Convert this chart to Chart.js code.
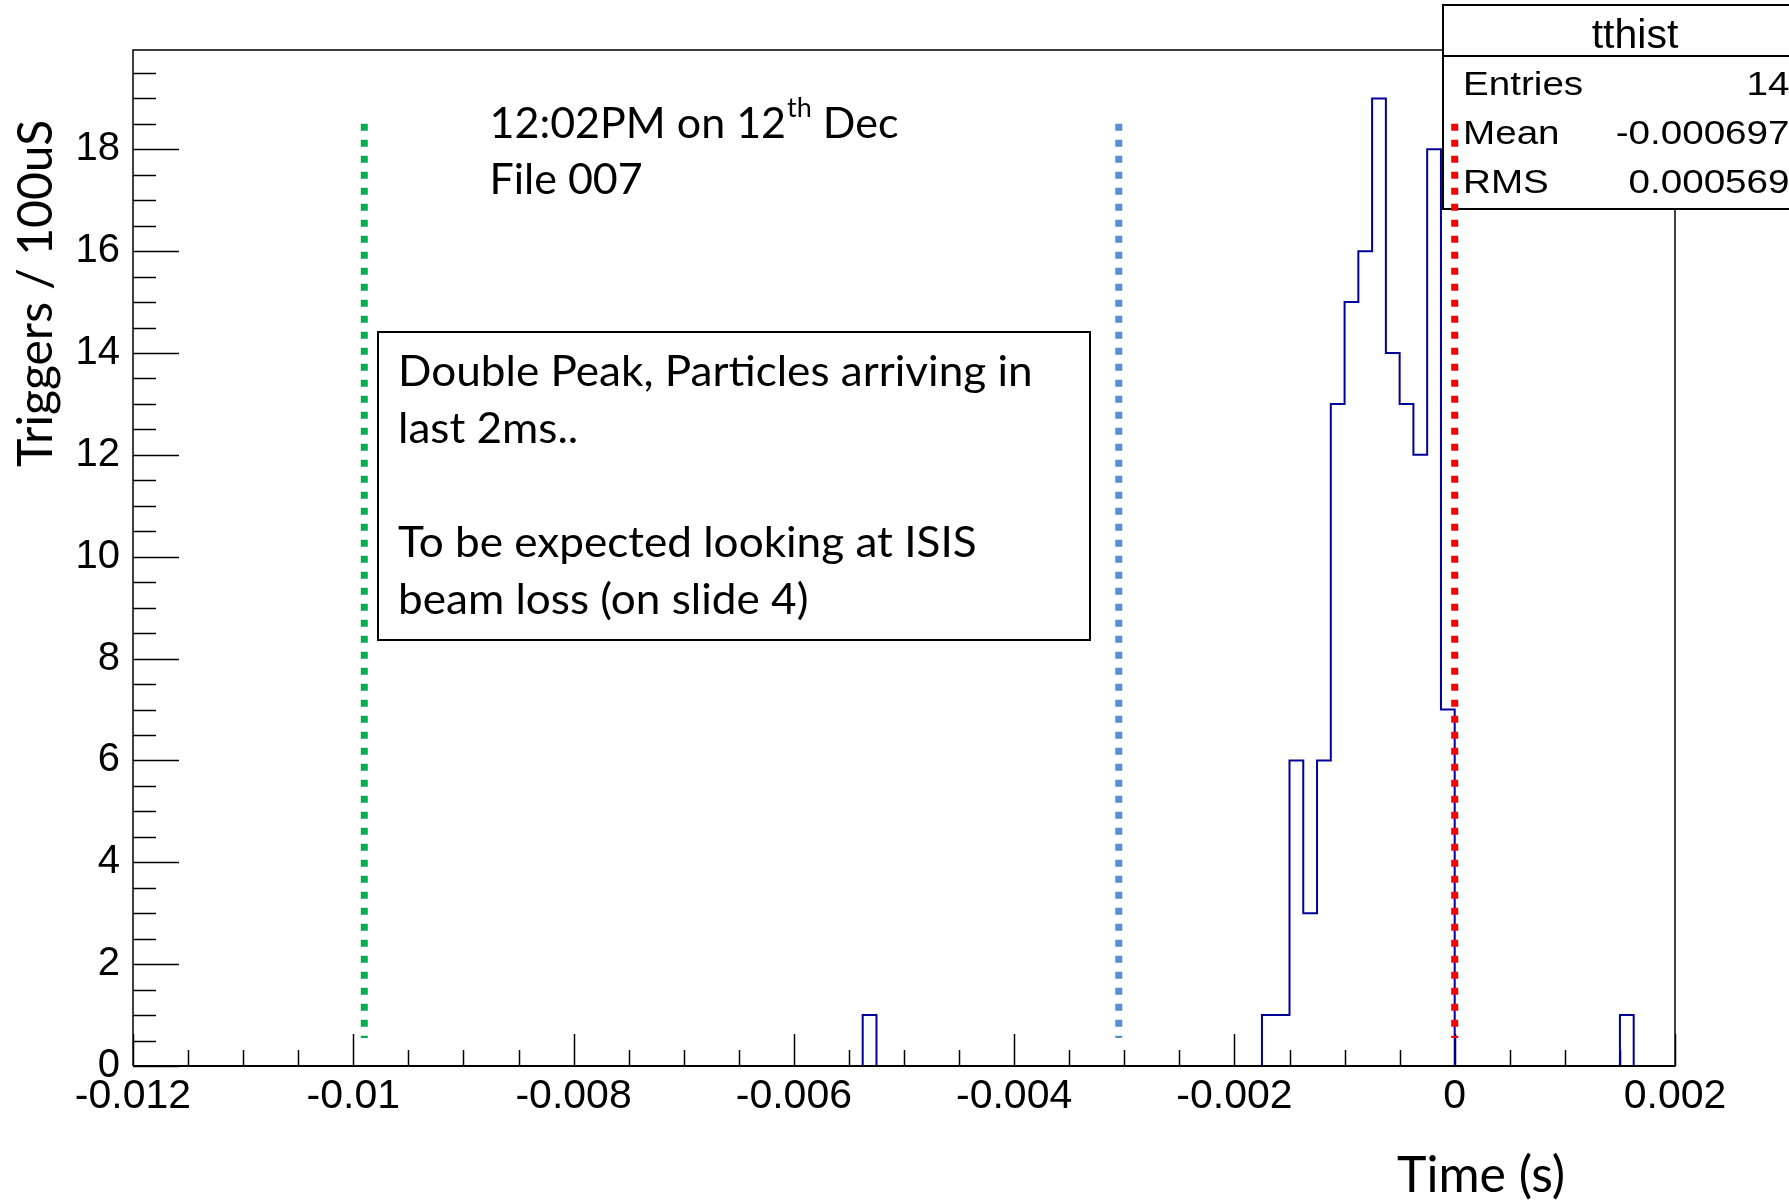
<!DOCTYPE html>
<html>
<head>
<meta charset="utf-8">
<title>tthist</title>
<script src="https://cdn.jsdelivr.net/npm/chart.js@4.4.0/dist/chart.umd.min.js"></script>
<style>
  html, body { margin: 0; padding: 0; background: #fff; }
  #wrap { width: 1789px; height: 1204px; }
</style>
</head>
<body>
<div id="wrap"><canvas id="tthistChart" width="1789" height="1204"></canvas></div>
<script>
// tthist - only the filled bins are listed (left edge in s, count)
const binWidth = 0.000125;
const binLeft = [-0.005375, -0.00175, -0.001625, -0.0015, -0.001375, -0.00125, -0.001125, -0.001,
                 -0.000875, -0.00075, -0.000625, -0.0005, -0.000375, -0.00025, -0.000125, 0.0015];
const binCounts = [1, 1, 1, 6, 3, 6, 13, 15, 16, 19, 14, 13, 12, 18, 7, 1];

const xRange = [-0.012, 0.002];
const yRange = [0, 19.95];
const xTicks = [-0.012, -0.01, -0.008, -0.006, -0.004, -0.002, 0, 0.002];
const xTickLabels = ['-0.012', '-0.01', '-0.008', '-0.006', '-0.004', '-0.002', '0', '0.002'];
const yTicks = [0, 2, 4, 6, 8, 10, 12, 14, 16, 18];
const yTickLabels = ['0', '2', '4', '6', '8', '10', '12', '14', '16', '18'];

// dotted markers put on the slide (time in s, from/to in counts)
const markerTimes = [-0.0099, -0.00305, 0];
const markerSpan = [18.5, 0.55];

const statNames = ['Entries', 'Mean', 'RMS'];
const statValues = ['146', '-0.0006973', '0.0005694'];

const noteLines = ['Double Peak, Particles arriving in', 'last 2ms..', '', 'To be expected looking at ISIS', 'beam loss (on slide 4)'];

// fill the empty bins so the outline runs along the axis
const nBins = Math.round((xRange[1] - xRange[0]) / binWidth);
const counts = new Array(nBins).fill(0);
binLeft.forEach((x, i) => {
    counts[Math.round((x - xRange[0]) / binWidth)] = binCounts[i];
});
const histPoints = counts.map((c, i) => ({ x: xRange[0] + i * binWidth, y: c }));
histPoints.push({ x: xRange[1], y: 0 });

const markerColors = ['#00B050', '#558ED5', '#FF0000'];
const markerSets = markerTimes.map((t, i) => ({
    data: [{ x: t, y: markerSpan[0] }, { x: t, y: markerSpan[1] }],
    borderColor: markerColors[i],
    borderWidth: 7,
    borderDash: [7, 9],
    borderCapStyle: 'butt',
    pointRadius: 0,
    order: 0
}));

const ROOT_FONT = '"Liberation Sans", Arial, sans-serif';
const SLIDE_FONT = 'Lato, "Open Sans", sans-serif';

// text squeezed/stretched sideways (the slide picture is not 1:1)
function wideText(ctx, str, x, y, sx, align) {
    ctx.save();
    ctx.translate(x, y);
    ctx.scale(sx, 1);
    ctx.textAlign = align || 'left';
    ctx.fillText(str, 0, 0);
    ctx.restore();
    return ctx.measureText(str).width * sx;
}

function drawTicks(ctx, chart) {
    const x = chart.scales.x, y = chart.scales.y;
    const a = chart.chartArea;
    ctx.save();
    ctx.strokeStyle = '#000';
    ctx.lineWidth = 1.5;
    ctx.beginPath();
    // frame
    ctx.moveTo(a.left, a.bottom); ctx.lineTo(a.left, a.top); ctx.lineTo(a.right, a.top);
    ctx.lineTo(a.right, a.bottom); ctx.lineTo(a.left, a.bottom);
    // x ticks, every 0.0005, long ones at labels
    for (let k = 0; k <= 28; k++) {
        const v = xRange[0] + k * 0.0005;
        const px = Math.round(x.getPixelForValue(v)) + 0.5;
        const len = (k % 4 === 0) ? 32 : 16;
        ctx.moveTo(px, a.bottom); ctx.lineTo(px, a.bottom - len);
    }
    // y ticks, every 0.5
    for (let k = 0; k <= 39; k++) {
        const py = Math.round(y.getPixelForValue(k * 0.5)) + 0.5;
        const len = (k % 4 === 0) ? 46 : 23;
        ctx.moveTo(a.left, py); ctx.lineTo(a.left + len, py);
    }
    ctx.stroke();
    ctx.restore();
}

function drawStats(ctx) {
    const left = 1443, top = 5, bottom = 209, right = 1830;
    ctx.save();
    ctx.fillStyle = '#fff';
    ctx.fillRect(left, top, right - left, bottom - top);
    ctx.strokeStyle = '#000';
    ctx.lineWidth = 2;
    ctx.strokeRect(left, top, right - left, bottom - top);
    ctx.beginPath();
    ctx.moveTo(left, 56); ctx.lineTo(right, 56);
    ctx.stroke();
    ctx.fillStyle = '#000';
    ctx.font = '41px ' + ROOT_FONT;
    ctx.textAlign = 'center';
    ctx.textBaseline = 'alphabetic';
    ctx.fillText('tthist', 1635, 48);
    ctx.font = '33px ' + ROOT_FONT;
    const rows = [95, 144, 193];
    statNames.forEach((name, i) => {
        wideText(ctx, name, 1463, rows[i], 1.17, 'left');
        wideText(ctx, statValues[i], 1811, rows[i], 1.17, 'right');
    });
    ctx.restore();
}

const rootLook = {
    id: 'rootLook',
    beforeDatasetsDraw(chart) {
        drawTicks(chart.ctx, chart);
        drawStats(chart.ctx);
    },
    afterDatasetsDraw(chart) {
        // axis line again so the empty bins don't show blue on it
        const ctx = chart.ctx, a = chart.chartArea;
        ctx.save();
        ctx.strokeStyle = '#000';
        ctx.lineWidth = 2;
        ctx.beginPath();
        ctx.moveTo(a.left, a.bottom); ctx.lineTo(a.right, a.bottom);
        ctx.stroke();
        ctx.restore();
    },
    afterDraw(chart) {
        const ctx = chart.ctx;
        ctx.save();
        ctx.fillStyle = '#000';
        ctx.textAlign = 'left';
        ctx.textBaseline = 'alphabetic';

        // date / file label
        ctx.font = '43px ' + SLIDE_FONT;
        let tx = 489.5;
        tx += wideText(ctx, '12:02PM on 12', tx, 138, 1);
        ctx.font = '27px ' + SLIDE_FONT;
        tx += wideText(ctx, 'th', tx + 1, 117, 1) + 1;
        ctx.font = '43px ' + SLIDE_FONT;
        wideText(ctx, ' Dec', tx, 138, 1);
        wideText(ctx, 'File 007', 489.5, 194, 1);

        // comment box
        ctx.fillStyle = '#fff';
        ctx.fillRect(378, 332, 712, 308);
        ctx.strokeStyle = '#000';
        ctx.lineWidth = 2;
        ctx.strokeRect(378, 332, 712, 308);
        ctx.fillStyle = '#000';
        ctx.font = '42px ' + SLIDE_FONT;
        noteLines.forEach((line, i) => {
            if (line) wideText(ctx, line, 398, 386 + i * 57, 1.05);
        });

        // axis titles
        ctx.font = '50px ' + SLIDE_FONT;
        wideText(ctx, 'Time (s)', 1397, 1192, 1);
        ctx.font = '48px ' + SLIDE_FONT;
        ctx.translate(52, 467);
        ctx.rotate(-Math.PI / 2);
        ctx.fillText('Triggers / 100uS', 0, 0);
        ctx.restore();
    }
};

function buildChart() {
    const ctx = document.getElementById('tthistChart').getContext('2d');
    new Chart(ctx, {
        type: 'line',
        data: {
            datasets: markerSets.concat([{
                label: 'tthist',
                data: histPoints,
                stepped: true,
                borderColor: '#000099',
                borderWidth: 2,
                pointRadius: 0,
                fill: false,
                order: 1,
                segment: {
                    borderColor: c => (c.p0.parsed.y === 0 && c.p1.parsed.y === 0) ? 'rgba(0,0,0,0)' : '#000099'
                }
            }])
        },
        options: {
            responsive: false,
            devicePixelRatio: 1,
            animation: false,
            events: [],
            layout: { padding: { top: 50, right: 114, left: 0, bottom: 0 } },
            plugins: {
                legend: { display: false },
                tooltip: { enabled: false },
                title: { display: false }
            },
            scales: {
                x: {
                    type: 'linear',
                    min: xRange[0],
                    max: xRange[1],
                    grid: { display: false, drawTicks: false },
                    border: { display: false },
                    afterFit: s => { s.height = 138; },
                    afterBuildTicks: s => { s.ticks = xTicks.map(v => ({ value: v })); },
                    ticks: {
                        autoSkip: false,
                        maxRotation: 0,
                        padding: 6,
                        color: '#000',
                        font: { family: ROOT_FONT, size: 41 },
                        callback: (v, i) => xTickLabels[i]
                    }
                },
                y: {
                    type: 'linear',
                    min: yRange[0],
                    max: yRange[1],
                    grid: { display: false, drawTicks: false },
                    border: { display: false },
                    afterFit: s => { s.width = 133; },
                    afterBuildTicks: s => { s.ticks = yTicks.map(v => ({ value: v })); },
                    ticks: {
                        autoSkip: false,
                        padding: 13,
                        color: '#000',
                        font: { family: ROOT_FONT, size: 40 },
                        callback: (v, i) => yTickLabels[i]
                    }
                }
            }
        },
        plugins: [rootLook]
    });
}

Promise.all([
    document.fonts.load('40px Lato'),
    document.fonts.load('40px "Liberation Sans"')
]).then(buildChart, buildChart);
</script>
</body>
</html>
